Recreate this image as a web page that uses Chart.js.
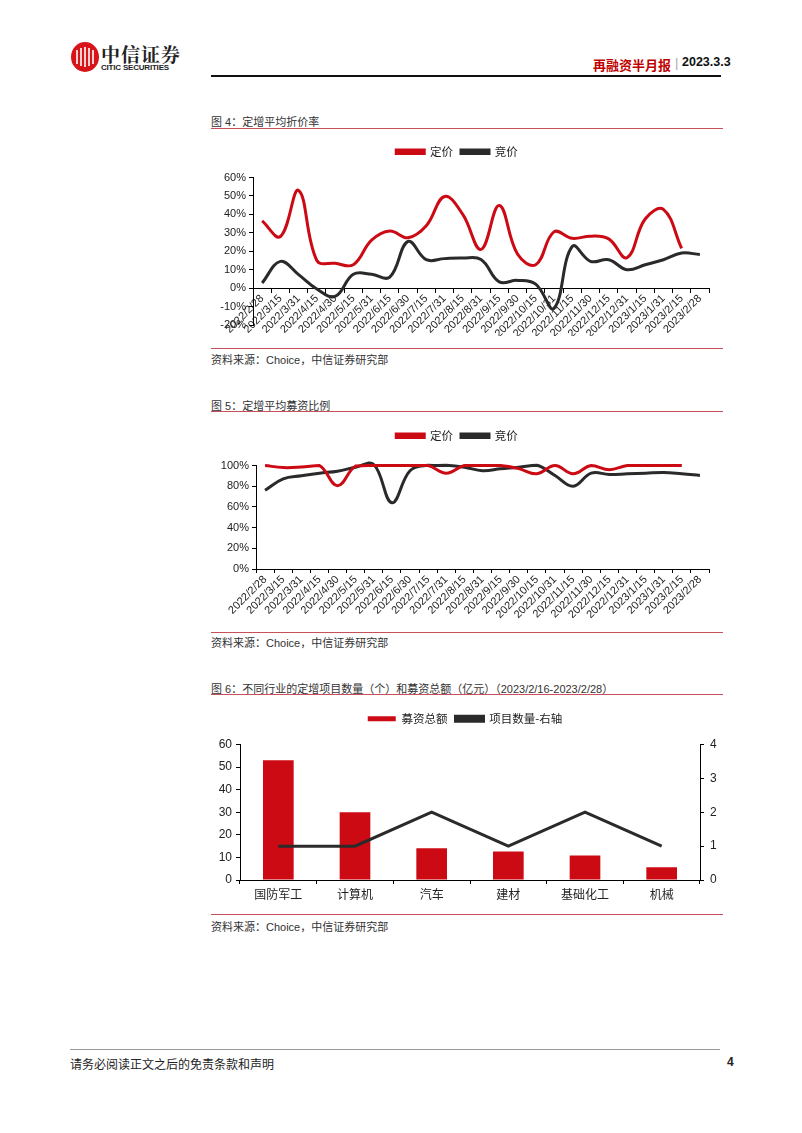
<!DOCTYPE html>
<html>
<head>
<meta charset="utf-8">
<script src="https://cdn.jsdelivr.net/npm/chart.js@4.4.1/dist/chart.umd.min.js"></script>
<style>
  body { margin: 0; background: #fff; width: 802px; height: 1133px; position: relative; overflow: hidden;
         font-family: 'Liberation Sans', 'Noto Sans CJK SC', sans-serif; color: #222; }
  .abs { position: absolute; }
  .title { position: absolute; left: 211px; font-size: 11px; color: #333; }
  .redline { position: absolute; left: 211px; width: 512px; height: 1px; background: #c8505a; }
  .source { position: absolute; left: 211px; font-size: 11px; color: #333; }
  canvas { position: absolute; }
</style>
</head>
<body>

<!-- header -->
<svg class="abs" style="left:70px;top:41px" width="30" height="32" viewBox="0 0 30 32">
  <ellipse cx="15" cy="16" rx="14" ry="15" fill="#d7141a"/>
  <path d="M7 9 v14 M11 7 v18 M15 6 v20 M19 7 v18 M23 9 v14" stroke="#fff" stroke-width="1.6" fill="none"/>
</svg>
<div class="abs" style="left:101px;top:40px;font-size:19px;font-weight:bold;font-family:'Noto Serif CJK SC','Noto Sans CJK SC',serif;letter-spacing:1px;color:#222">中信证券</div>
<div class="abs" style="left:101px;top:63px;font-size:8px;font-weight:bold;letter-spacing:-0.2px;color:#222">CITIC SECURITIES</div>
<div class="abs" style="left:593px;top:55px;font-size:13px;font-weight:bold;color:#c00000">再融资半月报</div>
<div class="abs" style="left:675px;top:55px;font-size:13px;color:#aaa">|</div>
<div class="abs" style="left:682px;top:55px;font-size:12.5px;font-weight:bold;color:#111">2023.3.3</div>
<div class="abs" style="left:211px;top:75px;width:510px;height:2px;background:#111"></div>

<!-- figure 4 -->
<div class="title" style="top:113px">图 4：定增平均折价率</div>
<div class="redline" style="top:128px"></div>
<canvas id="chart4" width="520" height="200" style="left:205px;top:136px"></canvas>
<div class="redline" style="top:348px"></div>
<div class="source" style="top:351px">资料来源：Choice，中信证券研究部</div>

<!-- figure 5 -->
<div class="title" style="top:397px">图 5：定增平均募资比例</div>
<div class="redline" style="top:411px"></div>
<canvas id="chart5" width="520" height="205" style="left:205px;top:420px"></canvas>
<div class="redline" style="top:632px"></div>
<div class="source" style="top:634px">资料来源：Choice，中信证券研究部</div>

<!-- figure 6 -->
<div class="title" style="top:680px">图 6：不同行业的定增项目数量（个）和募资总额（亿元）（2023/2/16-2023/2/28）</div>
<div class="redline" style="top:694px"></div>
<canvas id="chart6" width="550" height="200" style="left:190px;top:703px"></canvas>
<div class="redline" style="top:914px"></div>
<div class="source" style="top:918px">资料来源：Choice，中信证券研究部</div>

<!-- footer -->
<div class="abs" style="left:70px;top:1049px;width:650px;height:1px;background:#999"></div>
<div class="abs" style="left:70px;top:1055px;font-size:12px;color:#222">请务必阅读正文之后的免责条款和声明</div>
<div class="abs" style="left:727px;top:1055px;font-size:12px;font-weight:bold;color:#222">4</div>

<script>
// categories shared by figure 4 and 5
const dateLabels = ['2022/2/28', '2022/3/15', '2022/3/31', '2022/4/15', '2022/4/30', '2022/5/15',
  '2022/5/31', '2022/6/15', '2022/6/30', '2022/7/15', '2022/7/31', '2022/8/15', '2022/8/31',
  '2022/9/15', '2022/9/30', '2022/10/15', '2022/10/31', '2022/11/15', '2022/11/30', '2022/12/15',
  '2022/12/31', '2023/1/15', '2023/1/31', '2023/2/15', '2023/2/28'];

// figure 4: average discount rate (%)
const pricedDiscount = [36.5, 28, 53, 15, 13.5, 12.7, 26, 31, 27.3, 33.8, 49.7, 40, 21, 44.8, 18.5,
  12.7, 30.5, 27, 28.2, 26.7, 16.5, 37.5, 42.7, 21.5, null];
const auctionDiscount = [2.8, 14.5, 7.3, -0.5, -4.5, 7.5, 7.5, 6, 25.3, 15.4, 16, 16.3, 15.5, 3.4, 4.2,
  2.2, -11, 22.6, 14.5, 15.4, 10, 12.7, 15.4, 19, 18.2];
const discountTicks = [-20, -10, 0, 10, 20, 30, 40, 50, 60];

// figure 5: average fundraising ratio (%)
const pricedRatio = [100, 98, 98.5, 100, 80.5, 99.5, 100, 100, 100, 100, 92.5, 100, 100, 100, 97,
  92, 100, 92, 100, 96, 100, 100, 100, 100, null];
const auctionRatio = [76, 87, 90, 92.6, 94.5, 98.4, 101, 64, 95, 100.3, 100.2, 98.4, 95, 96.8, 98.4,
  100.3, 90.4, 80, 92.6, 91.3, 92, 92.6, 93.3, 92, 90.4];
const ratioTicks = [0, 20, 40, 60, 80, 100];

// figure 6: by industry
const industries = ['国防军工', '计算机', '汽车', '建材', '基础化工', '机械'];
const raisedAmount = [53, 30, 14.1, 12.6, 10.9, 5.6];
const projectCount = [1, 1, 2, 1, 2, 1];

const RED = '#cc0a14';
const DARK = '#2a2a2a';
const FONT = "'Liberation Sans', 'Noto Sans CJK SC', sans-serif";

Chart.defaults.font.family = FONT;
Chart.defaults.color = '#222';
Chart.defaults.animation = false;

// extra space between legend and plot area
const legendGap = {
  id: 'legendGap',
  beforeInit(chart, args, opts) {
    const fit = chart.legend.fit;
    chart.legend.fit = function () {
      fit.bind(chart.legend)();
      this.height += opts.gap || 0;
    };
  }
};

const legendOpts = (boxHeight) => ({
  display: true,
  position: 'top',
  labels: { boxWidth: 28, boxHeight: boxHeight, padding: 8, color: '#222',
    sort: (a, b) => a.datasetIndex - b.datasetIndex,
    font: { size: 11.5, family: "'Noto Sans CJK SC', sans-serif" } }
});

const lineSet = (label, data, color) => ({
  label, data, borderColor: color, backgroundColor: color,
  borderWidth: 3, pointRadius: 0, tension: 0.4, clip: 6, spanGaps: false
});

const catAxis = (height) => ({
  type: 'category',
  offset: true,
  grid: { display: true, offset: true, drawOnChartArea: false, drawTicks: true, tickLength: 4, color: '#000' },
  border: { display: true, color: '#000', width: 1 },
  ticks: { autoSkip: false, minRotation: 45, maxRotation: 45, padding: 0, color: '#222', font: { size: 11 } },
  afterFit: height ? (s) => { s.height = height; } : undefined
});

const pctAxis = (ticks, width) => ({
  min: ticks[0], max: ticks[ticks.length - 1],
  afterBuildTicks: (s) => { s.ticks = ticks.map(v => ({ value: v })); },
  grid: { display: true, drawOnChartArea: false, drawTicks: true, tickLength: 4, color: '#000' },
  border: { display: true, color: '#000', width: 1 },
  ticks: { callback: (v) => v + '%', padding: 3, color: '#222', font: { size: 11 } },
  afterFit: (s) => { s.width = width; }
});

// figure 4
new Chart(document.getElementById('chart4'), {
  type: 'line',
  data: {
    labels: dateLabels,
    datasets: [lineSet('定价', pricedDiscount, RED), lineSet('竞价', auctionDiscount, DARK)]
  },
  options: {
    responsive: false,
    layout: { padding: { top: 2, right: 16, bottom: 11, left: 0 } },
    plugins: { legend: legendOpts(3.5), legendGap: { gap: 10 }, tooltip: { enabled: false } },
    scales: {
      x: Object.assign(catAxis(), { position: { y: 0 } }),
      y: pctAxis(discountTicks, 48)
    }
  },
  plugins: [legendGap]
});

// figure 5
new Chart(document.getElementById('chart5'), {
  type: 'line',
  data: {
    labels: dateLabels,
    datasets: [lineSet('定价', pricedRatio, RED), lineSet('竞价', auctionRatio, DARK)]
  },
  options: {
    responsive: false,
    layout: { padding: { top: 2, right: 16, bottom: 0, left: 0 } },
    plugins: { legend: legendOpts(3.5), legendGap: { gap: 14 }, tooltip: { enabled: false } },
    scales: {
      x: catAxis(56),
      y: pctAxis(ratioTicks, 51)
    }
  },
  plugins: [legendGap]
});

// figure 6
new Chart(document.getElementById('chart6'), {
  data: {
    labels: industries,
    datasets: [
      { type: 'bar', label: '募资总额', data: raisedAmount, backgroundColor: RED, borderWidth: 0,
        barPercentage: 0.4, categoryPercentage: 1, yAxisID: 'y', order: 2 },
      { type: 'line', label: '项目数量-右轴', data: projectCount, borderColor: DARK, backgroundColor: DARK,
        borderWidth: 3, pointRadius: 0, tension: 0, yAxisID: 'y1', order: 1 }
    ]
  },
  options: {
    responsive: false,
    layout: { padding: { top: 2, right: 0, bottom: 0, left: 0 } },
    plugins: { legend: legendOpts(5), legendGap: { gap: 10 }, tooltip: { enabled: false } },
    scales: {
      x: {
        grid: { display: true, offset: true, drawOnChartArea: false, drawTicks: true, tickLength: 4, color: '#000' },
        border: { display: true, color: '#000', width: 1 },
        ticks: { padding: 3, color: '#222', font: { size: 12, family: "'Noto Sans CJK SC', sans-serif" } },
        afterFit: (s) => { s.height = 23; }
      },
      y: {
        position: 'left', min: 0, max: 60,
        ticks: { stepSize: 10, padding: 4, color: '#222', font: { size: 12 } },
        grid: { display: true, drawOnChartArea: false, drawTicks: true, tickLength: 4, color: '#000' },
        border: { display: true, color: '#000', width: 1 },
        afterFit: (s) => { s.width = 50; }
      },
      y1: {
        position: 'right', min: 0, max: 4,
        ticks: { stepSize: 1, padding: 6, color: '#222', font: { size: 12 } },
        grid: { display: true, drawOnChartArea: false, drawTicks: true, tickLength: 4, color: '#000' },
        border: { display: true, color: '#000', width: 1 },
        afterFit: (s) => { s.width = 40; }
      }
    }
  },
  plugins: [legendGap]
});
</script>
</body>
</html>
